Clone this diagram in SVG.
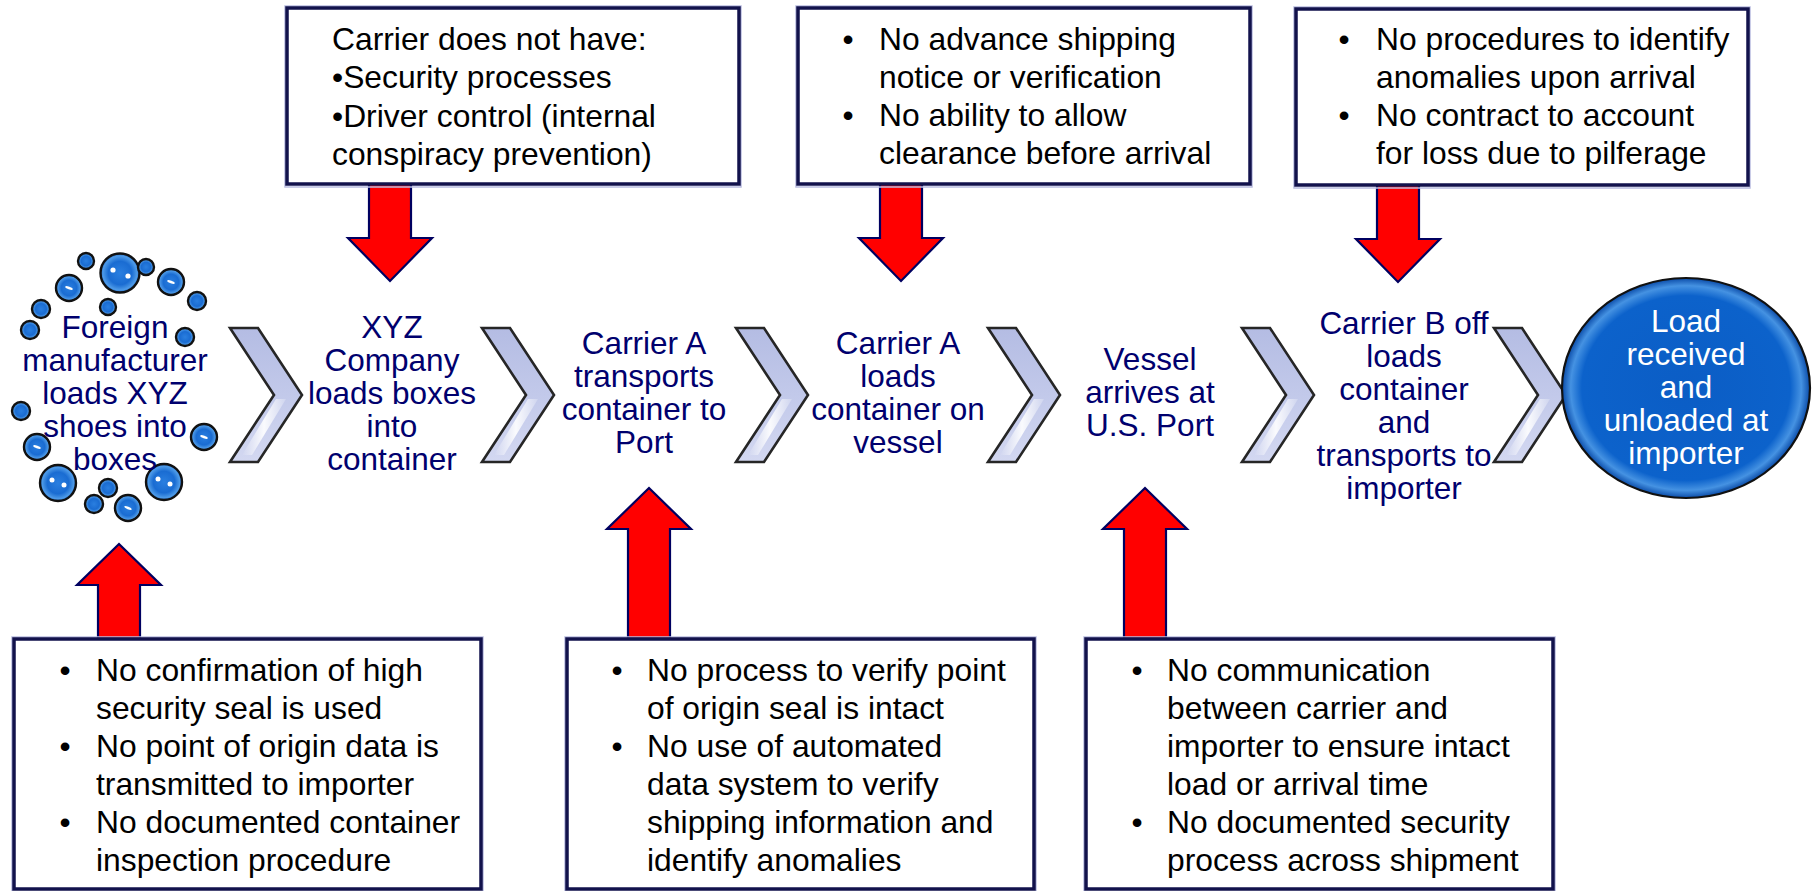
<svg xmlns="http://www.w3.org/2000/svg" width="1818" height="891" viewBox="0 0 1818 891">
<defs>
<style>
.step{font-family:"Liberation Sans",Arial,sans-serif;font-size:31.5px;fill:#00006e;text-anchor:middle}
.stepw{font-family:"Liberation Sans",Arial,sans-serif;font-size:31.5px;fill:#ffffff;text-anchor:middle}
.note{font-family:"Liberation Sans",Arial,sans-serif;font-size:31.8px;fill:#000000}
.box{fill:#ffffff;stroke:#12124c;stroke-width:3.5}
.boxsh{fill:none;stroke:#b9bce0;stroke-width:1.5}
.red{fill:#ff0000;stroke:#000060;stroke-width:2.2;stroke-linejoin:miter}
.chev{fill:url(#chevG);stroke:#262626;stroke-width:2.6;stroke-linejoin:miter}
.chevhl{fill:url(#chevH)}
.bub{fill:url(#bubG);stroke:#111111;stroke-width:2.4}
.hl{fill:#ffffff}
</style>
<linearGradient id="chevG" x1="0" y1="0" x2="0" y2="1">
<stop offset="0" stop-color="#b4bce3"/>
<stop offset="0.5" stop-color="#c2c9ea"/>
<stop offset="1" stop-color="#d3d8f1"/>
</linearGradient>
<linearGradient id="chevH" x1="0" y1="0" x2="1" y2="0">
<stop offset="0" stop-color="#ffffff" stop-opacity="0"/>
<stop offset="0.5" stop-color="#ffffff" stop-opacity="0.9"/>
<stop offset="1" stop-color="#ffffff" stop-opacity="0.2"/>
</linearGradient>
<radialGradient id="bubG" cx="0.5" cy="0.5" r="0.5">
<stop offset="0" stop-color="#2a7fe0"/>
<stop offset="0.6" stop-color="#1a6cd2"/>
<stop offset="0.88" stop-color="#4e9be8"/>
<stop offset="1" stop-color="#1d5fb8"/>
</radialGradient>
<radialGradient id="circG" cx="0.5" cy="0.5" r="0.5">
<stop offset="0" stop-color="#0b5dc5"/>
<stop offset="0.84" stop-color="#0c62cb"/>
<stop offset="0.93" stop-color="#4592e2"/>
<stop offset="1" stop-color="#0a4ba8"/>
</radialGradient>
<polygon id="chevron" points="0,328 28,328 72,395 28,462 0,462 44,395"/>
<polygon id="chevronHl" points="46,399 56,399 22,455 12,455"/>
</defs>
<rect x="0" y="0" width="1818" height="891" fill="#ffffff"/>

<g id="connectors">
<g id="chevrons">
<use href="#chevron" x="230" class="chev"/><use href="#chevronHl" x="230" class="chevhl"/>
<use href="#chevron" x="482" class="chev"/><use href="#chevronHl" x="482" class="chevhl"/>
<use href="#chevron" x="736" class="chev"/><use href="#chevronHl" x="736" class="chevhl"/>
<use href="#chevron" x="988" class="chev"/><use href="#chevronHl" x="988" class="chevhl"/>
<use href="#chevron" x="1242" class="chev"/><use href="#chevronHl" x="1242" class="chevhl"/>
<use href="#chevron" x="1494" class="chev"/><use href="#chevronHl" x="1494" class="chevhl"/>
</g>
<g id="red-arrows">
<polygon class="red" points="369,184 411,184 411,238 432,238 390,281 348,238 369,238"/>
<polygon class="red" points="880,184 922,184 922,238 943,238 901,281 859,238 880,238"/>
<polygon class="red" points="1377,185 1419,185 1419,239 1440,239 1398,282 1356,239 1377,239"/>
<polygon class="red" points="98,639 140,639 140,585 161,585 119,544 77,585 98,585"/>
<polygon class="red" points="628,639 670,639 670,529 691,529 649,488 607,529 628,529"/>
<polygon class="red" points="1124,639 1166,639 1166,529 1187,529 1145,488 1103,529 1124,529"/>
</g>
</g>

<g id="node-foreign-manufacturer">
<circle class="bub" cx="86" cy="261" r="8"/>
<circle class="bub" cx="120" cy="273" r="19.5"/><circle class="hl" cx="113" cy="270" r="2.6"/><circle class="hl" cx="128" cy="276" r="2.6"/>
<circle class="bub" cx="146" cy="267" r="8"/>
<circle class="bub" cx="171" cy="282" r="13"/><ellipse class="hl" cx="171" cy="282" rx="4" ry="1.2" transform="rotate(20 171 282)"/>
<circle class="bub" cx="197" cy="301" r="9"/>
<circle class="bub" cx="69" cy="288" r="13"/><ellipse class="hl" cx="69" cy="288" rx="4" ry="1.2" transform="rotate(20 69 288)"/>
<circle class="bub" cx="41" cy="309" r="9"/>
<circle class="bub" cx="108" cy="307" r="8"/>
<circle class="bub" cx="30" cy="330" r="9"/>
<circle class="bub" cx="185" cy="337" r="9"/>
<circle class="bub" cx="21" cy="411" r="9"/>
<circle class="bub" cx="204" cy="437" r="13"/><ellipse class="hl" cx="204" cy="437" rx="4" ry="1.2" transform="rotate(20 204 437)"/>
<circle class="bub" cx="37" cy="447" r="13"/><ellipse class="hl" cx="37" cy="447" rx="4" ry="1.2" transform="rotate(20 37 447)"/>
<circle class="bub" cx="58" cy="483" r="18"/><circle class="hl" cx="52" cy="480" r="2.5"/><circle class="hl" cx="64" cy="485" r="2.5"/>
<circle class="bub" cx="164" cy="482" r="18"/><circle class="hl" cx="158" cy="479" r="2.5"/><circle class="hl" cx="170" cy="484" r="2.5"/>
<circle class="bub" cx="108" cy="488" r="9"/>
<circle class="bub" cx="94" cy="504" r="9"/>
<circle class="bub" cx="128" cy="508" r="13"/><ellipse class="hl" cx="128" cy="508" rx="4" ry="1.2" transform="rotate(20 128 508)"/>
<text class="step" x="115" y="338">Foreign</text>
<text class="step" x="115" y="371">manufacturer</text>
<text class="step" x="115" y="404">loads XYZ</text>
<text class="step" x="115" y="437">shoes into</text>
<text class="step" x="115" y="470">boxes</text>
</g>

<g id="node-xyz-company">
<text class="step" x="392" y="338">XYZ</text>
<text class="step" x="392" y="371">Company</text>
<text class="step" x="392" y="404">loads boxes</text>
<text class="step" x="392" y="437">into</text>
<text class="step" x="392" y="470">container</text>
</g>

<g id="node-carrier-a-transports">
<text class="step" x="644" y="354">Carrier A</text>
<text class="step" x="644" y="387">transports</text>
<text class="step" x="644" y="420">container to</text>
<text class="step" x="644" y="453">Port</text>
</g>

<g id="node-carrier-a-loads">
<text class="step" x="898" y="354">Carrier A</text>
<text class="step" x="898" y="387">loads</text>
<text class="step" x="898" y="420">container on</text>
<text class="step" x="898" y="453">vessel</text>
</g>

<g id="node-vessel-arrives">
<text class="step" x="1150" y="370">Vessel</text>
<text class="step" x="1150" y="403">arrives at</text>
<text class="step" x="1150" y="436">U.S. Port</text>
</g>

<g id="node-carrier-b">
<text class="step" x="1404" y="334">Carrier B off</text>
<text class="step" x="1404" y="367">loads</text>
<text class="step" x="1404" y="400">container</text>
<text class="step" x="1404" y="433">and</text>
<text class="step" x="1404" y="466">transports to</text>
<text class="step" x="1404" y="499">importer</text>
</g>

<g id="node-load-received">
<ellipse cx="1686" cy="388" rx="124" ry="110" fill="url(#circG)" stroke="#111111" stroke-width="2.2"/>
<text class="stepw" x="1686" y="332">Load</text>
<text class="stepw" x="1686" y="365">received</text>
<text class="stepw" x="1686" y="398">and</text>
<text class="stepw" x="1686" y="431">unloaded at</text>
<text class="stepw" x="1686" y="464">importer</text>
</g>

<g id="note-carrier-lacks">
<rect class="boxsh" x="285" y="6" width="456" height="181"/>
<rect class="box" x="287" y="8" width="452" height="176"/>
<text class="note" x="332" y="50">Carrier does not have:</text>
<text class="note" x="332" y="88">•Security processes</text>
<text class="note" x="332" y="127">•Driver control (internal</text>
<text class="note" x="332" y="165">conspiracy prevention)</text>
</g>

<g id="note-advance-notice">
<rect class="boxsh" x="796" y="6" width="456" height="181"/>
<rect class="box" x="798" y="8" width="452" height="176"/>
<text class="note" x="842.5" y="50">•</text><text class="note" x="879" y="50">No advance shipping</text>
<text class="note" x="879" y="88">notice or verification</text>
<text class="note" x="842.5" y="126">•</text><text class="note" x="879" y="126">No ability to allow</text>
<text class="note" x="879" y="164">clearance before arrival</text>
</g>

<g id="note-arrival-procedures">
<rect class="boxsh" x="1294" y="7" width="456" height="181"/>
<rect class="box" x="1296" y="9" width="452" height="176"/>
<text class="note" x="1338.5" y="50">•</text><text class="note" x="1376" y="50">No procedures to identify</text>
<text class="note" x="1376" y="88">anomalies upon arrival</text>
<text class="note" x="1338.5" y="126">•</text><text class="note" x="1376" y="126">No contract to account</text>
<text class="note" x="1376" y="164">for loss due to pilferage</text>
</g>

<g id="note-seal-origin">
<rect class="boxsh" x="12" y="637" width="471" height="255"/>
<rect class="box" x="14" y="639" width="467" height="250"/>
<text class="note" x="59.5" y="681">•</text><text class="note" x="96" y="681">No confirmation of high</text>
<text class="note" x="96" y="719">security seal is used</text>
<text class="note" x="59.5" y="757">•</text><text class="note" x="96" y="757">No point of origin data is</text>
<text class="note" x="96" y="795">transmitted to importer</text>
<text class="note" x="59.5" y="833">•</text><text class="note" x="96" y="833">No documented container</text>
<text class="note" x="96" y="871">inspection procedure</text>
</g>

<g id="note-verify-seal">
<rect class="boxsh" x="565" y="637" width="471" height="255"/>
<rect class="box" x="567" y="639" width="467" height="250"/>
<text class="note" x="611.5" y="681">•</text><text class="note" x="647" y="681">No process to verify point</text>
<text class="note" x="647" y="719">of origin seal is intact</text>
<text class="note" x="611.5" y="757">•</text><text class="note" x="647" y="757">No use of automated</text>
<text class="note" x="647" y="795">data system to verify</text>
<text class="note" x="647" y="833">shipping information and</text>
<text class="note" x="647" y="871">identify anomalies</text>
</g>

<g id="note-communication">
<rect class="boxsh" x="1084" y="637" width="471" height="255"/>
<rect class="box" x="1086" y="639" width="467" height="250"/>
<text class="note" x="1131.5" y="681">•</text><text class="note" x="1167" y="681">No communication</text>
<text class="note" x="1167" y="719">between carrier and</text>
<text class="note" x="1167" y="757">importer to ensure intact</text>
<text class="note" x="1167" y="795">load or arrival time</text>
<text class="note" x="1131.5" y="833">•</text><text class="note" x="1167" y="833">No documented security</text>
<text class="note" x="1167" y="871">process across shipment</text>
</g>
</svg>
